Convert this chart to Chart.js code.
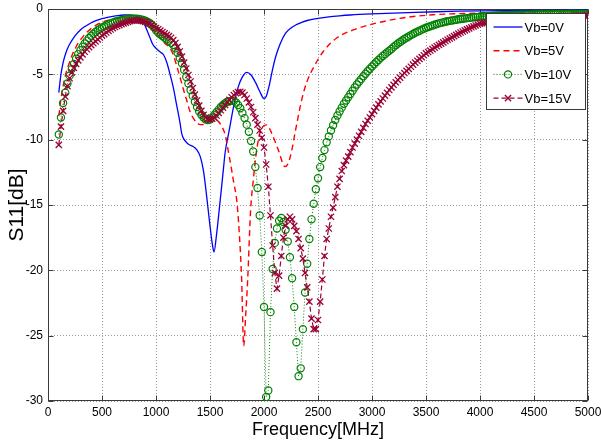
<!DOCTYPE html>
<html>
    <head>
        <meta charset="utf-8">
        <script src="https://cdn.jsdelivr.net/npm/chart.js@4.4.0/dist/chart.umd.min.js"></script>
        <style>
            body { margin: 0; background: #fff; }
        </style>
    </head>
    <body>
        <canvas id="myChart" width="601" height="447"></canvas>

        <script>
            // sweep grid of the marker traces (20 MHz step, 100..5000 MHz)
            const freqMHz = Array.from({length: 246}, (_, i) => 100 + 20 * i);

            // Vb=0V (solid line, no markers)
            const vb0Freq = [100,120,140,160,180,200,250,300,350,400,450,500,550,600,650,700,750,800,850,
                880,910,940,970,1000,1040,1070,1100,1130,1160,1190,1220,1240,1270,1300,1340,1380,1410,1440,
                1470,1500,1520,1537,1560,1590,1620,1640,1680,1720,1760,1800,1840,1880,1920,1960,2000,2020,
                2050,2080,2110,2150,2200,2250,2300,2350,2400,2500,2600,2700,2800,3000,3200,3400,3600,3800,
                4000,4500,5000];
            const vb0S11 = [-6.4,-5.0,-4.1,-3.5,-3.05,-2.7,-2.05,-1.6,-1.3,-1.05,-0.87,-0.74,-0.64,-0.56,-0.5,
                -0.46,-0.45,-0.5,-0.68,-0.9,-1.5,-2.1,-2.7,-3.0,-3.3,-3.5,-4.1,-5.0,-6.0,-7.3,-8.6,-9.6,-10.1,
                -10.35,-10.5,-10.8,-11.3,-12.4,-14.4,-16.6,-17.9,-18.6,-17.3,-15.0,-12.6,-11.0,-9.2,-7.4,-6.0,
                -5.2,-4.85,-5.05,-5.6,-6.3,-6.85,-6.7,-5.8,-4.6,-3.6,-2.65,-1.85,-1.45,-1.2,-1.02,-0.88,-0.72,
                -0.6,-0.52,-0.46,-0.38,-0.32,-0.26,-0.21,-0.17,-0.14,-0.1,-0.07];

            // Vb=5V (dashed line, no markers)
            const vb5Freq = [100,120,140,160,190,220,250,280,320,370,420,470,520,590,650,700,750,800,850,900,
                950,1000,1040,1080,1130,1160,1190,1220,1250,1285,1315,1345,1377,1410,1440,1475,1515,1545,1577,
                1610,1640,1670,1700,1720,1747,1770,1793,1812,1830,1849,1876,1901,1932,1979,2025,2071,2133,2194,
                2225,2260,2287,2349,2400,2457,2549,2673,2827,2981,3136,3321,3565,4000,4500,5000];
            const vb5S11 = [-8.2,-6.9,-5.9,-5.1,-4.3,-3.6,-3.05,-2.6,-2.15,-1.7,-1.38,-1.12,-0.95,-0.8,-0.72,
                -0.69,-0.68,-0.7,-0.8,-1.0,-1.35,-1.85,-2.2,-2.6,-3.0,-3.5,-4.3,-5.15,-6.05,-7.0,-7.85,-8.35,
                -8.7,-8.85,-8.85,-8.7,-8.5,-8.5,-8.6,-9.0,-9.6,-10.9,-12.3,-13.3,-14.6,-17.0,-20.7,-25.8,-23.5,
                -20.7,-15.4,-13.1,-10.8,-9.1,-8.87,-9.5,-10.8,-12.06,-11.8,-10.7,-9.5,-6.95,-5.5,-4.5,-3.25,
                -2.22,-1.6,-1.2,-0.9,-0.64,-0.44,-0.31,-0.2,-0.12];

            // Vb=10V (circles, one value per freqMHz entry)
            const vb10S11 = [
                -9.6,-8.3,-7.2,-6.4,-5.7,-5.1,-4.6,-4.2,-3.8,-3.45,
                -3.15,-2.88,-2.64,-2.42,-2.22,-2.05,-1.9,-1.76,-1.63,-1.52,
                -1.42,-1.33,-1.25,-1.17,-1.1,-1.04,-0.98,-0.93,-0.89,-0.85,
                -0.82,-0.79,-0.77,-0.75,-0.74,-0.74,-0.75,-0.77,-0.8,-0.84,
                -0.9,-0.98,-1.07,-1.2,-1.4,-1.62,-1.8,-1.95,-2.07,-2.2,
                -2.32,-2.44,-2.58,-2.75,-3.0,-3.35,-3.75,-4.15,-4.65,-5.2,
                -5.7,-6.2,-6.65,-7.1,-7.5,-7.85,-8.1,-8.3,-8.45,-8.5,
                -8.45,-8.3,-8.1,-7.9,-7.7,-7.5,-7.35,-7.2,-7.1,-7.05,
                -7.02,-7.05,-7.15,-7.35,-7.6,-7.95,-8.35,-8.85,-9.4,-10.1,
                -10.9,-12.1,-13.7,-15.8,-18.6,-22.8,-29.7,-29.2,-23.2,-19.9,
                -17.9,-16.8,-16.2,-16.0,-16.3,-16.9,-17.8,-19.0,-20.6,-22.8,
                -25.5,-28.1,-27.5,-24.5,-21.7,-19.5,-17.6,-16.1,-14.9,-13.8,
                -12.95,-12.1,-11.4,-10.8,-10.2,-9.75,-9.3,-8.9,-8.5,-8.15,
                -7.85,-7.55,-7.25,-7.0,-6.75,-6.5,-6.25,-6.0,-5.78,-5.57,
                -5.36,-5.15,-4.95,-4.76,-4.57,-4.4,-4.23,-4.06,-3.9,-3.74,
                -3.6,-3.46,-3.32,-3.19,-3.06,-2.9,-2.77,-2.64,-2.52,-2.41,
                -2.3,-2.2,-2.1,-2.0,-1.91,-1.82,-1.74,-1.66,-1.58,-1.51,
                -1.44,-1.38,-1.32,-1.26,-1.2,-1.15,-1.1,-1.06,-1.02,-0.98,
                -0.94,-0.91,-0.88,-0.85,-0.82,-0.79,-0.77,-0.75,-0.72,-0.7,
                -0.68,-0.66,-0.64,-0.62,-0.6,-0.58,-0.57,-0.56,-0.55,-0.54,
                -0.53,-0.52,-0.51,-0.5,-0.5,-0.49,-0.48,-0.48,-0.47,-0.47,
                -0.46,-0.46,-0.45,-0.45,-0.44,-0.44,-0.44,-0.43,-0.43,-0.43,
                -0.42,-0.42,-0.42,-0.41,-0.41,-0.41,-0.41,-0.4,-0.4,-0.4,
                -0.4,-0.39,-0.39,-0.39,-0.39,-0.39,-0.38,-0.38,-0.38,-0.38,
                -0.38,-0.37,-0.37,-0.37,-0.37,-0.37
            ];

            // Vb=15V (crosses, one value per freqMHz entry)
            const vb15S11 = [
                -10.4,-9.0,-7.8,-6.7,-5.9,-5.3,-4.85,-4.5,-4.2,-3.93,
                -3.7,-3.48,-3.27,-3.08,-2.92,-2.77,-2.62,-2.48,-2.33,-2.18,
                -2.04,-1.92,-1.8,-1.68,-1.57,-1.47,-1.38,-1.3,-1.23,-1.16,
                -1.1,-1.04,-0.98,-0.93,-0.89,-0.87,-0.86,-0.87,-0.9,-0.94,
                -0.99,-1.05,-1.12,-1.22,-1.34,-1.45,-1.55,-1.65,-1.76,-1.87,
                -1.98,-2.08,-2.2,-2.38,-2.6,-2.9,-3.25,-3.65,-4.1,-4.55,
                -5.05,-5.55,-6.05,-6.55,-7.0,-7.4,-7.8,-8.1,-8.3,-8.45,
                -8.45,-8.4,-8.3,-8.15,-7.95,-7.75,-7.55,-7.35,-7.15,-6.95,
                -6.75,-6.58,-6.45,-6.36,-6.33,-6.4,-6.58,-6.85,-7.15,-7.5,
                -7.9,-8.35,-8.85,-9.3,-9.85,-10.6,-11.9,-13.6,-15.8,-18.1,
                -20.2,-21.4,-20.4,-18.9,-17.5,-16.6,-16.1,-15.9,-16.1,-16.6,
                -17.0,-17.6,-18.3,-19.1,-20.2,-21.3,-22.4,-23.7,-24.5,-24.5,
                -23.8,-22.4,-20.7,-18.9,-17.6,-16.8,-15.9,-15.2,-14.4,-13.6,
                -13.0,-12.4,-11.95,-11.6,-11.3,-10.95,-10.6,-10.3,-10.0,-9.7,
                -9.4,-9.1,-8.8,-8.55,-8.3,-8.05,-7.8,-7.55,-7.3,-7.07,
                -6.85,-6.63,-6.42,-6.2,-6.0,-5.8,-5.61,-5.43,-5.25,-5.07,
                -4.9,-4.74,-4.58,-4.42,-4.26,-4.1,-3.96,-3.82,-3.68,-3.54,
                -3.4,-3.29,-3.18,-3.07,-2.96,-2.85,-2.75,-2.65,-2.55,-2.45,
                -2.35,-2.26,-2.17,-2.08,-1.98,-1.88,-1.8,-1.72,-1.64,-1.56,
                -1.48,-1.4,-1.33,-1.26,-1.19,-1.12,-1.09,-1.06,-1.03,-1.0,
                -0.97,-0.95,-0.93,-0.91,-0.89,-0.87,-0.85,-0.83,-0.81,-0.8,
                -0.78,-0.77,-0.75,-0.74,-0.72,-0.71,-0.7,-0.69,-0.68,-0.67,
                -0.66,-0.65,-0.64,-0.63,-0.62,-0.61,-0.6,-0.6,-0.59,-0.58,
                -0.57,-0.57,-0.56,-0.55,-0.55,-0.54,-0.54,-0.53,-0.53,-0.52,
                -0.52,-0.51,-0.51,-0.5,-0.5,-0.5
            ];

            const xTicks = [0,500,1000,1500,2000,2500,3000,3500,4000,4500,5000];
            const yTicks = [0,-5,-10,-15,-20,-25,-30];

            const GREEN = 'rgb(0, 128, 0)';
            const MAROON = 'rgb(153, 0, 51)';
            const NARROW = "'Liberation Sans Narrow', 'Liberation Sans', Arial, sans-serif";
            const SANS = "'Liberation Sans', Arial, sans-serif";

            function pairs(xs, ys) {
                return xs.map((x, i) => ({x: x, y: ys[i]}));
            }

            // box around the plot plus the short inward tick marks
            const frame = {
                id: 'frame',
                beforeDatasetsDraw(chart) {
                    const {ctx, chartArea: a, scales} = chart;
                    const l = Math.round(a.left) + 0.5, r = Math.round(a.right) - 0.5;
                    const t = Math.round(a.top) + 0.5, b = Math.round(a.bottom) - 0.5;
                    ctx.save();
                    ctx.strokeStyle = '#3a3a3a';
                    ctx.lineWidth = 1;
                    ctx.beginPath();
                    xTicks.forEach((v) => {
                        const px = Math.round(scales.x.getPixelForValue(v)) + 0.5;
                        ctx.moveTo(px, b); ctx.lineTo(px, b - 5);
                        ctx.moveTo(px, t); ctx.lineTo(px, t + 5);
                    });
                    yTicks.forEach((v) => {
                        const py = Math.round(scales.y.getPixelForValue(v)) + 0.5;
                        ctx.moveTo(l, py); ctx.lineTo(l + 5, py);
                        ctx.moveTo(r, py); ctx.lineTo(r - 5, py);
                    });
                    ctx.stroke();
                    ctx.strokeRect(l, t, r - l, b - t);
                    ctx.restore();
                }
            };

            // MATLAB-like legend box in the upper right corner
            const legendBox = {
                id: 'legendBox',
                afterDraw(chart) {
                    const {ctx, chartArea: a} = chart;
                    const x0 = Math.round(a.right) - 102 + 0.5;
                    const y0 = Math.round(a.top) + 4 + 0.5;
                    ctx.save();
                    ctx.fillStyle = '#fff';
                    ctx.fillRect(x0, y0, 99, 96);
                    ctx.strokeStyle = '#3a3a3a';
                    ctx.lineWidth = 1;
                    ctx.strokeRect(x0, y0, 99, 96);
                    chart.data.datasets.forEach((ds, i) => {
                        const yy = y0 + 13.5 + i * 23.7;
                        ctx.strokeStyle = ds.borderColor;
                        ctx.lineWidth = ds.borderWidth;
                        ctx.setLineDash(ds.borderDash || []);
                        ctx.beginPath();
                        ctx.moveTo(x0 + 7, yy);
                        ctx.lineTo(x0 + 36, yy);
                        ctx.stroke();
                        ctx.setLineDash([]);
                        const cx = x0 + 21.5, rr = ds.pointRadius;
                        if (ds.pointStyle === 'circle' && rr) {
                            ctx.lineWidth = ds.pointBorderWidth;
                            ctx.beginPath();
                            ctx.arc(cx, yy, rr, 0, Math.PI * 2);
                            ctx.stroke();
                        } else if (ds.pointStyle === 'crossRot' && rr) {
                            const d = rr * 0.7;
                            ctx.lineWidth = ds.pointBorderWidth;
                            ctx.beginPath();
                            ctx.moveTo(cx - d, yy - d); ctx.lineTo(cx + d, yy + d);
                            ctx.moveTo(cx - d, yy + d); ctx.lineTo(cx + d, yy - d);
                            ctx.stroke();
                        }
                        ctx.fillStyle = '#000';
                        ctx.font = '13px ' + NARROW;
                        ctx.textBaseline = 'middle';
                        ctx.fillText(ds.label, x0 + 38, yy + 1);
                    });
                    ctx.restore();
                }
            };

            const data = {
                datasets: [
                    {
                        label: 'Vb=0V',
                        data: pairs(vb0Freq, vb0S11),
                        borderColor: 'rgb(0, 0, 255)',
                        borderWidth: 1.3,
                        pointRadius: 0,
                        cubicInterpolationMode: 'monotone',
                        order: 3,
                    },
                    {
                        label: 'Vb=5V',
                        data: pairs(vb5Freq, vb5S11),
                        borderColor: 'rgb(255, 0, 0)',
                        borderWidth: 1.4,
                        borderDash: [6, 4],
                        pointRadius: 0,
                        cubicInterpolationMode: 'monotone',
                        order: 2,
                    },
                    {
                        label: 'Vb=10V',
                        data: pairs(freqMHz, vb10S11),
                        borderColor: GREEN,
                        borderWidth: 1,
                        borderDash: [1, 2],
                        pointStyle: 'circle',
                        pointRadius: 3.6,
                        pointBorderWidth: 1.2,
                        pointBorderColor: GREEN,
                        pointBackgroundColor: 'rgba(0, 0, 0, 0)',
                        order: 1,
                    },
                    {
                        label: 'Vb=15V',
                        data: pairs(freqMHz, vb15S11),
                        borderColor: MAROON,
                        borderWidth: 1.2,
                        borderDash: [5, 3],
                        pointStyle: 'crossRot',
                        pointRadius: 4.4,
                        pointBorderWidth: 1.3,
                        pointBorderColor: MAROON,
                        order: 0,
                    },
                ],
            };

            const gridStyle = {color: '#9a9a9a', lineWidth: 1, drawTicks: false};

            new Chart(document.getElementById('myChart'), {
                type: 'line',
                data,
                options: {
                    responsive: false,
                    animation: false,
                    devicePixelRatio: 1,
                    layout: {padding: {top: 9, right: 13, left: 0, bottom: 0}},
                    plugins: {
                        legend: {display: false},
                        tooltip: {enabled: false},
                    },
                    scales: {
                        x: {
                            type: 'linear',
                            min: 0,
                            max: 5000,
                            afterFit: (s) => { s.height = 46; s.paddingLeft = 0; s.paddingRight = 0; },
                            afterBuildTicks: (s) => { s.ticks = xTicks.map((v) => ({value: v})); },
                            ticks: {
                                autoSkip: false,
                                maxRotation: 0,
                                padding: 4,
                                color: '#000',
                                font: {family: SANS, size: 12},
                                callback: (v) => String(v),
                            },
                            grid: gridStyle,
                            border: {display: false, dash: [1, 2]},
                            title: {
                                display: true,
                                text: 'Frequency[MHz]',
                                color: '#000',
                                font: {family: NARROW, size: 18},
                                padding: {top: 0, bottom: 6},
                            },
                        },
                        y: {
                            type: 'linear',
                            min: -30,
                            max: 0,
                            afterFit: (s) => { s.width = 48; s.paddingTop = 0; s.paddingBottom = 0; },
                            afterBuildTicks: (s) => { s.ticks = yTicks.map((v) => ({value: v})); },
                            ticks: {
                                padding: 5,
                                color: '#000',
                                font: {family: SANS, size: 12},
                                callback: (v) => String(v),
                            },
                            grid: gridStyle,
                            border: {display: false, dash: [1, 2]},
                            title: {
                                display: true,
                                text: 'S11[dB]',
                                color: '#000',
                                font: {family: SANS, size: 21},
                                padding: {top: 5, bottom: 0},
                            },
                        },
                    },
                },
                plugins: [frame, legendBox],
            });
        </script>
    </body>
</html>
